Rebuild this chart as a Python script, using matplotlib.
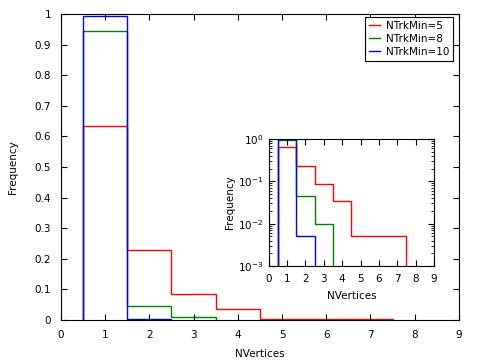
import matplotlib
matplotlib.use("Agg")
import matplotlib.pyplot as plt
import numpy as np

labels = ["NTrkMin=5", "NTrkMin=8", "NTrkMin=10"]
colors = ["#ff0000", "#008000", "#0000ff"]
red_vals = [0.635, 0.23, 0.085, 0.035, 0.005, 0.005, 0.005]
green_vals = [0.945, 0.045, 0.01]
blue_vals = [0.995, 0.005]
series = [red_vals, green_vals, blue_vals]
xticks = list(range(0, 10))
yticks = [round(0.1 * i, 1) for i in range(11)]

plt.rcParams['font.family'] = ['DejaVu Sans']
fig = plt.figure(figsize=(4.8, 3.6), dpi=100)
ax = fig.add_axes([0.127, 0.111, 0.829, 0.850])

for vals, c, lab in zip(series, colors, labels):
    edges = np.arange(len(vals) + 1) + 0.5
    ax.stairs(vals, edges, baseline=0, color=c, lw=1, label=lab)

ax.set_xlim(0, 9)
ax.set_ylim(0, 1)
ax.set_xticks(xticks)
ax.set_yticks(yticks)
ax.set_yticklabels([("%g" % v) for v in yticks])
ax.tick_params(direction='in', top=True, right=True, labelsize=7.5, length=4, pad=7)
ax.set_xlabel("NVertices", fontsize=7.5, labelpad=7)
ax.set_ylabel("Frequency", fontsize=7.5, labelpad=12)
leg = ax.legend(loc='upper right', bbox_to_anchor=(0.985, 0.990), fontsize=7.5, frameon=True,
                fancybox=False, edgecolor='black', framealpha=1, handlelength=1.05,
                borderpad=0.35, labelspacing=0.3, handletextpad=0.6, borderaxespad=0)
leg.get_frame().set_linewidth(0.8)

ins = fig.add_axes([0.560, 0.261, 0.344, 0.353])
for vals, c in zip(series, colors):
    edges = np.arange(len(vals) + 1) + 0.5
    ins.stairs(vals, edges, baseline=1e-6, color=c, lw=1)
ins.set_yscale('log')
ins.set_xlim(0, 9)
ins.set_ylim(1e-3, 1)
ins.set_xticks(xticks)
ins.tick_params(which='both', direction='in', top=True, right=True, labelsize=7.5)
ins.tick_params(which='major', length=4)
ins.tick_params(axis='x', which='major', pad=6)
ins.tick_params(axis='y', which='major', pad=4)
ins.tick_params(which='minor', length=2)
ins.set_xlabel("NVertices", fontsize=7.5, labelpad=5)
ins.set_ylabel("Frequency", fontsize=7.5, labelpad=2)

fig.savefig("out.png", dpi=100)
